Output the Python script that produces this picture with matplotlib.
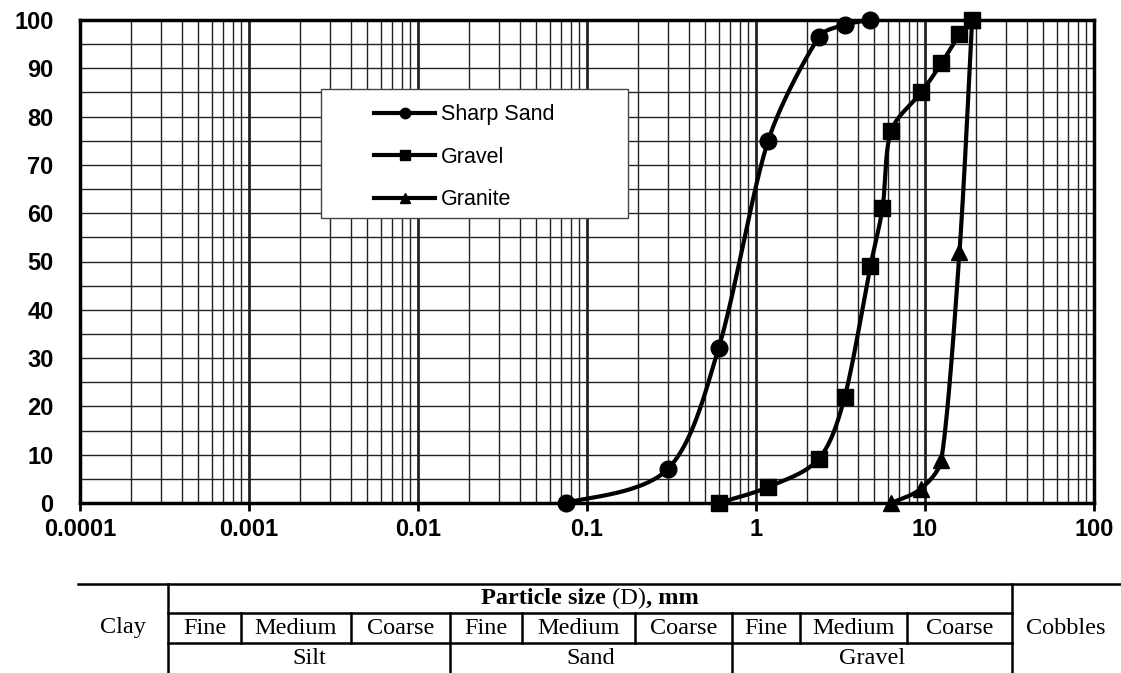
import numpy as np
import matplotlib
matplotlib.use("Agg")
import matplotlib.pyplot as plt
from matplotlib.lines import Line2D
from matplotlib.patches import Rectangle
from matplotlib.ticker import LogLocator, MultipleLocator, NullFormatter

# sieve sizes (mm) and percent passing
sand_d = [0.075, 0.3, 0.6, 1.18, 2.36, 3.35, 4.75]
sand_pass = [0, 7, 32, 75, 96.5, 99, 100]
gravel_d = [0.6, 1.18, 2.36, 3.35, 4.75, 5.6, 6.3, 9.5, 12.5, 16, 19]
gravel_pass = [0, 3.3, 9.2, 22, 49, 61, 77, 85, 91, 97, 100]
granite_d = [6.3, 9.5, 12.5, 16, 19]
granite_pass = [0, 3, 9, 52, 100]

x_ticks = [0.0001, 0.001, 0.01, 0.1, 1, 10, 100]
x_ticklabels = ["0.0001", "0.001", "0.01", "0.1", "1", "10", "100"]
y_ticks = list(range(0, 101, 10))

groups = ["Silt", "Sand", "Gravel"]
subclasses = ["Fine", "Medium", "Coarse"]

W, H = 1121, 673
DEC_PX, PCT_PX = 169.0, 4.83


def smooth(d, p, n=40):
    """Excel style smoothed line (cubic Bezier through the points)."""
    X = (np.log10(d) + 4) * DEC_PX
    Y = np.asarray(p, float) * PCT_PX
    pts = np.column_stack([X, Y])
    ext = np.vstack([pts[0], pts, pts[-1]])
    t = np.linspace(0, 1, n)[1:, None]
    out = [pts[:1]]
    for i in range(len(pts) - 1):
        p0, p1, p2, p3 = ext[i], ext[i + 1], ext[i + 2], ext[i + 3]
        seg_len = np.hypot(*(p2 - p1))
        a1 = (p2 - p0) / 6
        a2 = (p3 - p1) / 6
        # keep the control arms short so the curve does not dip back
        for a in (a1, a2):
            ln = np.hypot(*a)
            if ln > seg_len / 3:
                a *= (seg_len / 3) / ln
        c1 = p1 + a1
        c2 = p2 - a2
        seg = ((1 - t) ** 3) * p1 + 3 * ((1 - t) ** 2) * t * c1 \
            + 3 * (1 - t) * t ** 2 * c2 + t ** 3 * p2
        out.append(seg)
    xy = np.vstack(out)
    return 10 ** (xy[:, 0] / DEC_PX - 4), xy[:, 1] / PCT_PX


fig = plt.figure(figsize=(W / 100, H / 100), dpi=100)
ax = fig.add_axes([80 / W, (H - 503) / H, 1014 / W, 483 / H])

ax.set_xscale("log")
ax.set_xlim(0.0001, 100)
ax.set_ylim(0, 100)

# grid
ax.xaxis.set_minor_locator(LogLocator(base=10, subs=np.arange(2, 10), numticks=100))
ax.xaxis.set_minor_formatter(NullFormatter())
ax.yaxis.set_minor_locator(MultipleLocator(5))
ax.grid(which="major", axis="x", color="#222222", lw=2)
ax.grid(which="minor", axis="x", color="#222222", lw=1)
ax.grid(which="both", axis="y", color="#222222", lw=1)
ax.set_axisbelow(True)

series = [
    (sand_d, sand_pass, "o", 12, "Sharp Sand"),
    (gravel_d, gravel_pass, "s", 11.5, "Gravel"),
    (granite_d, granite_pass, "^", 12, "Granite"),
]
for d, p, mk, ms, name in series:
    sx, sy = smooth(d, p)
    ax.plot(sx, sy, color="black", lw=3, zorder=6, solid_capstyle="round")
    ax.plot(d, p, linestyle="none", marker=mk, ms=ms, color="black", zorder=7,
            clip_on=False)

ax.set_xticks(x_ticks)
ax.set_xticklabels(x_ticklabels)
ax.set_yticks(y_ticks)
for lab in ax.get_xticklabels() + ax.get_yticklabels():
    lab.set_fontfamily("Liberation Sans")
    lab.set_fontweight("bold")
    lab.set_fontsize(17)
ax.tick_params(axis="x", which="major", length=6, width=2, direction="out", pad=5)
ax.tick_params(axis="x", which="minor", length=0)
ax.tick_params(axis="y", which="both", length=0, pad=19)
for s in ax.spines.values():
    s.set_linewidth(2.5)

# legend box
ax.add_patch(Rectangle((0.2377, 0.590), 0.3027, 0.267, transform=ax.transAxes,
                       facecolor="white", edgecolor="#444444", lw=1, zorder=4))
handles = [Line2D([], [], color="black", lw=3, marker=mk, ms=7.5)
           for _, _, mk, _, _ in series]
leg = ax.legend(handles, [s[4] for s in series], loc="upper left",
                bbox_to_anchor=(0.29, 0.8256), frameon=False, borderpad=0,
                borderaxespad=0, handlelength=2.85, handletextpad=0.25,
                labelspacing=1.0,
                prop={"family": "Liberation Sans", "size": 15.5})
leg.set_zorder(5)

# classification table under the chart (pixel coordinates)
tax = fig.add_axes([0, 0, 1, 1])
tax.set_xlim(0, W)
tax.set_ylim(H, 0)
tax.axis("off")
tkw = dict(color="black", lw=1.8, solid_capstyle="projecting")
col_edges = [168, 241, 351, 450, 522, 635, 732, 800, 907, 1012]
row_y = [584, 613, 643, 673]
tax.plot([78, W], [row_y[0]] * 2, **tkw)
tax.plot([col_edges[0], col_edges[-1]], [row_y[1]] * 2, **tkw)
tax.plot([col_edges[0], col_edges[-1]], [row_y[2]] * 2, **tkw)
for i, xe in enumerate(col_edges):
    if i in (0, 9):
        tax.plot([xe, xe], [row_y[0], row_y[3]], **tkw)
    elif i in (3, 6):
        tax.plot([xe, xe], [row_y[1], row_y[3]], **tkw)
    else:
        tax.plot([xe, xe], [row_y[1], row_y[2]], **tkw)

serif = dict(family="Liberation Serif", size=17.5, ha="center", va="center")
tax.text(123, 628, "Clay", **serif)
tax.text(1066, 628, "Cobbles", **serif)
for i in range(9):
    xm = (col_edges[i] + col_edges[i + 1]) / 2
    tax.text(xm, 628, subclasses[i % 3], **serif)
for g in range(3):
    xm = (col_edges[3 * g] + col_edges[3 * g + 3]) / 2
    tax.text(xm, 658, groups[g], **serif)

# heading with mixed weights
parts = [("Particle size", "bold"), (" (D)", "normal"), (", mm", "bold")]
fig.canvas.draw()
rend = fig.canvas.get_renderer()
texts = []
for txt, wt in parts:
    t = tax.text(0, 598, txt, family="Liberation Serif", size=17.5, weight=wt,
                 ha="left", va="center")
    texts.append(t)
widths = [t.get_window_extent(rend).width for t in texts]
x = (col_edges[0] + col_edges[-1]) / 2 - sum(widths) / 2
for t, w in zip(texts, widths):
    t.set_x(x)
    x += w

fig.savefig("out.png", dpi=100)
